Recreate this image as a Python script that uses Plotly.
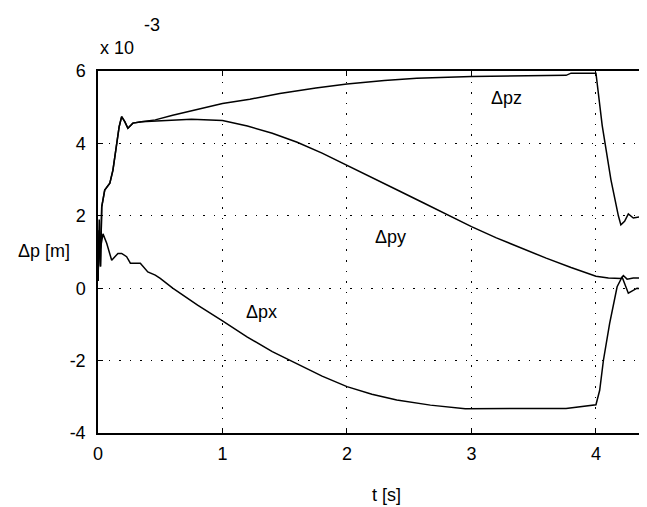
import plotly.graph_objects as go

# time samples and series values (in units of 1e-3 m)
t_z = [0, 0.01, 0.02, 0.03, 0.054, 0.095, 0.12, 0.15, 0.17, 0.19, 0.215, 0.24, 0.28, 0.35, 0.46,
       0.6, 0.75, 1.0, 1.22, 1.46, 1.75, 2.0, 2.3, 2.56, 3.0, 3.5, 3.76, 3.8, 4.0, 4.05, 4.12,
       4.18, 4.2, 4.23, 4.26, 4.3, 4.35, 4.38, 4.41]
pz = [0.2, 1.6, 0.6, 2.25, 2.71, 2.9, 3.26, 4.0, 4.46, 4.74, 4.6, 4.42, 4.56, 4.6, 4.65,
      4.78, 4.9, 5.1, 5.22, 5.38, 5.53, 5.64, 5.74, 5.8, 5.85, 5.87, 5.88, 5.94, 5.94, 4.5, 3.0,
      2.0, 1.75, 1.85, 2.05, 1.94, 1.97, 1.95, 2.0]

t_y = [0, 0.01, 0.02, 0.03, 0.054, 0.095, 0.12, 0.15, 0.17, 0.19, 0.215, 0.24, 0.28, 0.35, 0.46,
       0.6, 0.75, 1.0, 1.2, 1.4, 1.6, 1.8, 2.0, 2.2, 2.4, 2.6, 2.8, 3.0, 3.2, 3.4, 3.6, 3.8,
       4.0, 4.1, 4.2, 4.22, 4.25, 4.3, 4.41]
py = [0.2, 1.6, 0.6, 2.25, 2.71, 2.9, 3.26, 4.0, 4.46, 4.74, 4.6, 4.42, 4.56, 4.6, 4.62,
      4.65, 4.67, 4.63, 4.48, 4.28, 4.03, 3.73, 3.40, 3.06, 2.72, 2.38, 2.03, 1.70, 1.39, 1.10,
      0.83, 0.57, 0.33, 0.28, 0.27, 0.35, 0.25, 0.28, 0.28]

t_x = [0, 0.01, 0.02, 0.04, 0.07, 0.11, 0.16, 0.19, 0.23, 0.26, 0.34, 0.4, 0.46, 0.5, 0.6,
       0.8, 1.0, 1.2, 1.4, 1.6, 1.8, 2.0, 2.2, 2.4, 2.67, 2.95, 3.76, 4.0, 4.03, 4.06, 4.11,
       4.17, 4.21, 4.26, 4.33, 4.41]
px = [0.2, 1.9, 1.1, 1.5, 1.24, 0.77, 0.96, 0.96, 0.87, 0.69, 0.69, 0.45, 0.36, 0.27, 0.0,
      -0.47, -0.9, -1.35, -1.75, -2.1, -2.43, -2.72, -2.93, -3.09, -3.23, -3.33, -3.32, -3.22,
      -2.82, -1.99, -0.97, 0.04, 0.31, -0.14, 0.0, -0.05]

labels = ["Δpz", "Δpy", "Δpx"]
label_t = [3.28, 2.35, 1.31]
label_v = [5.25, 1.41, -0.66]

x_ticks = [0, 1, 2, 3, 4]
x_ticktext = ["0", "1", "2", "3", "4"]
y_ticks = [-4, -2, 0, 2, 4, 6]
y_ticktext = ["-4", "-2", "0", "2", "4", "6"]

FONT = "Liberation Sans, Arial, sans-serif"
FS = 18

fig = go.Figure()
for tt, vv in [(t_z, pz), (t_y, py), (t_x, px)]:
    fig.add_trace(go.Scatter(x=tt, y=vv, mode="lines",
                             line=dict(color="black", width=1.5), showlegend=False))

for txt, tx, ty in zip(labels, label_t, label_v):
    fig.add_annotation(x=tx, y=ty, text=txt, showarrow=False,
                       font=dict(family=FONT, size=FS, color="black"))

fig.add_annotation(xref="paper", yref="paper", x=0.0, y=1.0635, xanchor="left", yanchor="middle",
                   text="x 10", showarrow=False,
                   font=dict(family=FONT, size=FS, color="black"))
fig.add_annotation(xref="paper", yref="paper", x=0.080, y=1.1257, xanchor="left", yanchor="middle",
                   text="-3", showarrow=False,
                   font=dict(family=FONT, size=FS, color="black"))
fig.add_annotation(xref="paper", yref="paper", x=-0.098, y=0.503, xanchor="center", yanchor="middle",
                   text="Δp [m]", showarrow=False,
                   font=dict(family=FONT, size=FS, color="black"))
fig.add_annotation(xref="paper", yref="paper", x=0.5246, y=-0.171, xanchor="center", yanchor="middle",
                   text="t [s]", showarrow=False,
                   font=dict(family=FONT, size=FS, color="black"))

grid = dict(showgrid=True, gridcolor="black", gridwidth=1, griddash="1.5px,9px", zeroline=False)
fig.update_xaxes(range=[0, 4.41], tickvals=x_ticks, ticktext=x_ticktext, ticks="inside", ticklen=5,
                 tickcolor="black", showline=True, linecolor="black", linewidth=1.5, mirror="ticks",
                 ticklabelstandoff=4,
                 tickfont=dict(family=FONT, size=FS, color="black"), **grid)
fig.update_yaxes(range=[-4, 6], tickvals=y_ticks, ticktext=y_ticktext, ticks="inside", ticklen=5,
                 tickcolor="black", showline=True, linecolor="black", linewidth=1.5, mirror=False,
                 ticklabelstandoff=7,
                 tickfont=dict(family=FONT, size=FS, color="black"), **grid)

# page body adds an 8px margin; figure sized so the plot area lands where the reference has it
fig.update_layout(width=639, height=499, margin=dict(l=90, r=0, t=63, b=74),
                  plot_bgcolor="white", paper_bgcolor="white", showlegend=False)

fig.write_html("out.html")
